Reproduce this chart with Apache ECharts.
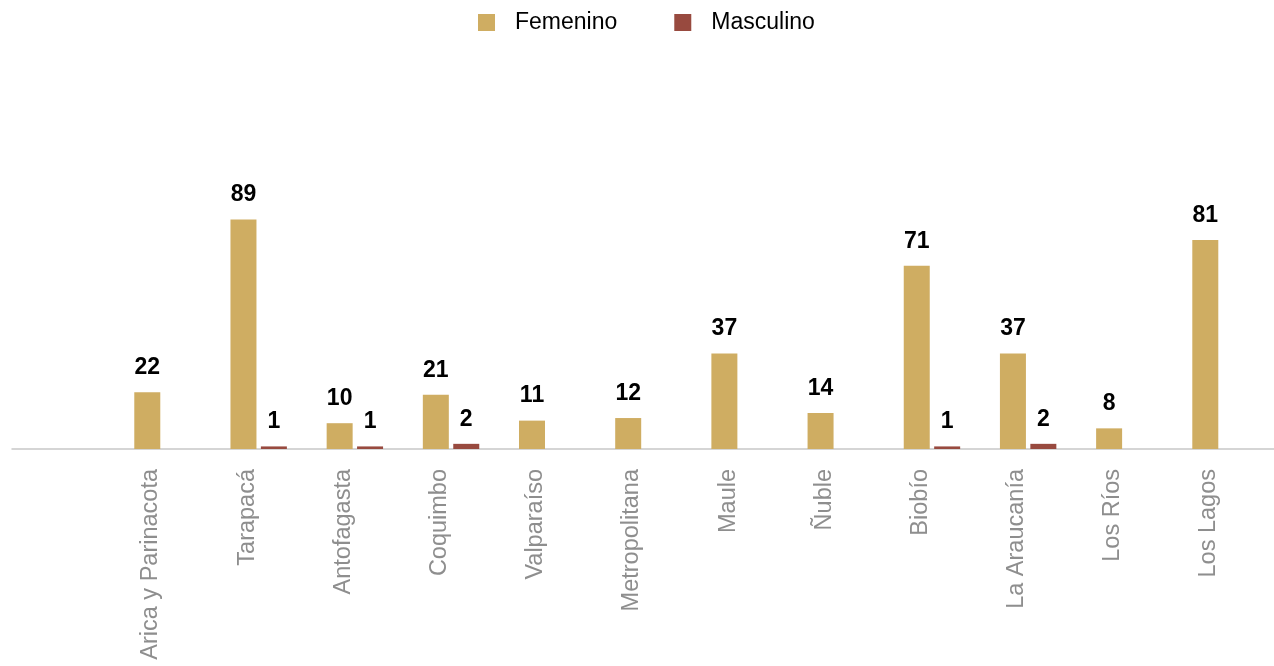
<!DOCTYPE html>
<html>
<head>
<meta charset="utf-8">
<script src="https://cdn.jsdelivr.net/npm/echarts@6/dist/echarts.min.js"></script>
<style>
  html, body { margin: 0; padding: 0; background: #ffffff; }
  #chart { width: 1274px; height: 666px; }
</style>
</head>
<body>
<div id="chart"></div>
<script>
// Regiones
const regions = [
  'Arica y Parinacota', 'Tarapacá', 'Antofagasta', 'Coquimbo', 'Valparaíso',
  'Metropolitana', 'Maule', 'Ñuble', 'Biobío', 'La Araucanía', 'Los Ríos', 'Los Lagos'
];
// Casos por sexo (null = sin casos)
const femenino = [22, 89, 10, 21, 11, 12, 37, 14, 71, 37, 8, 81];
const masculino = [null, 1, 1, 2, null, null, null, null, 1, 2, null, null];

const seriesNames = ['Femenino', 'Masculino'];
const colors = ['#CFAD62', '#984A3F'];

const FONT = '"Liberation Sans", Helvetica, Arial, sans-serif';

const chart = echarts.init(document.getElementById('chart'), null, { renderer: 'canvas' });

const valueLabel = {
  show: true,
  position: 'top',
  distance: 13,
  fontFamily: FONT,
  fontSize: 23,
  fontWeight: 'bold',
  color: '#000000'
};

chart.setOption({
  animation: false,
  color: colors,
  textStyle: { fontFamily: FONT },
  legend: {
    top: 6,
    left: 473,
    itemWidth: 17,
    itemHeight: 17,
    itemGap: 57,
    icon: 'rect',
    textStyle: {
      fontFamily: FONT,
      fontSize: 23,
      color: '#000000',
      padding: [0, 0, 0, 15]
    },
    data: seriesNames
  },
  grid: [
    { left: 114.4, right: 5.4, top: 191, bottom: 217 },
    { left: 12, right: 0, top: 191, bottom: 217 }
  ],
  xAxis: [
    {
      type: 'category',
      gridIndex: 0,
      data: regions,
      axisLine: { show: false },
      axisTick: { show: false },
      axisLabel: {
        rotate: 90,
        margin: 20,
        interval: 0,
        fontFamily: FONT,
        fontSize: 23.5,
        lineHeight: 23,
        verticalAlign: 'bottom',
        color: '#8E8E8E'
      }
    },
    {
      // baseline spanning the full width
      type: 'category',
      gridIndex: 1,
      data: [''],
      axisLine: { show: true, lineStyle: { color: '#C8C8C8', width: 1.5 } },
      axisTick: { show: false },
      axisLabel: { show: false }
    }
  ],
  yAxis: [
    { type: 'value', gridIndex: 0, min: 0, max: 100, show: false },
    { type: 'value', gridIndex: 1, min: 0, max: 100, show: false }
  ],
  series: [
    {
      name: seriesNames[0],
      type: 'bar',
      xAxisIndex: 0,
      yAxisIndex: 0,
      barWidth: 26,
      barGap: '17%',
      data: femenino,
      label: valueLabel
    },
    {
      name: seriesNames[1],
      type: 'bar',
      xAxisIndex: 0,
      yAxisIndex: 0,
      barWidth: 26,
      barGap: '17%',
      data: masculino,
      label: valueLabel
    }
  ]
});
</script>
</body>
</html>
